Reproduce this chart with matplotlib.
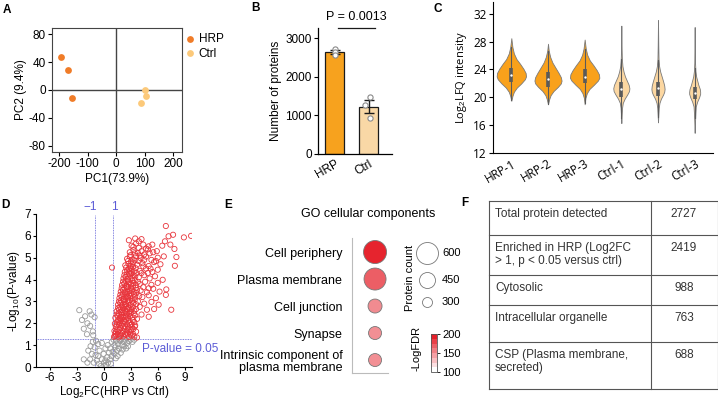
import numpy as np
import matplotlib
matplotlib.use("Agg")
import matplotlib.pyplot as plt
from matplotlib.colors import LinearSegmentedColormap, Normalize
import matplotlib as mpl

plt.rcParams["font.family"] = ["Liberation Sans", "DejaVu Sans"]
plt.rcParams["axes.unicode_minus"] = False
plt.rcParams["mathtext.fontset"] = "custom"
plt.rcParams["mathtext.rm"] = "Liberation Sans"
plt.rcParams["mathtext.default"] = "rm"

# ---------------- data ----------------
# A: PCA
pca_groups = ["HRP", "Ctrl"]
pca_hrp_x = [-195, -168, -155]
pca_hrp_y = [47, 28, -11]
pca_ctrl_x = [100, 105, 88]
pca_ctrl_y = [0, -8, -19]

# B: number of proteins
bar_groups = ["HRP", "Ctrl"]
bar_means = [2646, 1230]
bar_sem = [50, 175]
bar_points_hrp = [2720, 2650, 2570]
bar_points_ctrl = [1490, 1275, 930]
p_label = "P = 0.0013"

# C: violin profiles (value, half width)
violin_names = ["HRP-1", "HRP-2", "HRP-3", "Ctrl-1", "Ctrl-2", "Ctrl-3"]
violin_vals = [
    [19.5, 20.2, 20.8, 21.4, 22.0, 22.6, 23.0, 23.5, 24.1, 24.8, 25.5, 26.3, 27.2, 28.5],
    [19.0, 19.7, 20.3, 20.9, 21.5, 22.0, 22.4, 22.9, 23.5, 24.2, 25.0, 25.8, 26.7, 27.7],
    [19.0, 19.9, 20.6, 21.2, 21.8, 22.4, 22.8, 23.3, 23.9, 24.6, 25.3, 26.1, 27.0, 28.3],
    [16.3, 17.5, 18.5, 19.2, 19.8, 20.4, 20.9, 21.3, 21.8, 22.4, 23.0, 23.7, 24.5, 25.5, 27.0, 30.3],
    [16.4, 17.5, 18.5, 19.2, 19.8, 20.4, 20.8, 21.2, 21.7, 22.3, 23.0, 23.7, 24.5, 25.5, 27.5, 31.1],
    [14.9, 16.5, 17.8, 18.7, 19.4, 20.0, 20.5, 20.8, 21.2, 21.8, 22.4, 23.0, 23.8, 25.0, 27.0, 30.1],
]
violin_hw = [
    [0.0, 0.03, 0.07, 0.15, 0.27, 0.37, 0.40, 0.39, 0.33, 0.24, 0.14, 0.07, 0.03, 0.0],
    [0.0, 0.03, 0.07, 0.15, 0.27, 0.35, 0.37, 0.35, 0.29, 0.21, 0.12, 0.06, 0.02, 0.0],
    [0.0, 0.02, 0.06, 0.13, 0.25, 0.36, 0.40, 0.39, 0.33, 0.24, 0.14, 0.07, 0.03, 0.0],
    [0.0, 0.01, 0.02, 0.04, 0.09, 0.16, 0.21, 0.22, 0.20, 0.15, 0.10, 0.06, 0.03, 0.015, 0.008, 0.0],
    [0.0, 0.01, 0.02, 0.04, 0.08, 0.14, 0.17, 0.18, 0.17, 0.14, 0.10, 0.06, 0.03, 0.015, 0.008, 0.0],
    [0.0, 0.01, 0.02, 0.03, 0.07, 0.12, 0.15, 0.15, 0.14, 0.10, 0.07, 0.04, 0.02, 0.01, 0.006, 0.0],
]
box_q1 = [22.25, 21.5, 22.1, 20.1, 20.2, 19.7]
box_med = [23.2, 22.6, 22.9, 21.2, 21.3, 20.6]
box_q3 = [24.2, 23.6, 24.0, 22.25, 22.25, 21.5]
whisk_lo = [19.6, 19.0, 19.2, 17.0, 17.2, 17.0]
whisk_hi = [27.2, 26.7, 26.9, 25.5, 25.3, 24.2]

# D: volcano (log2FC, -log10 p)
red_pts = [
    (1.15, 1.38), (1.4, 1.45), (1.7, 1.36), (1.95, 1.48), (2.2, 1.4), (2.5, 1.47), (2.8, 1.37), (3.1, 1.44),
    (3.4, 1.39), (3.7, 1.35), (1.3, 1.52), (2.05, 1.55), (2.65, 1.53),
    (1.25, 1.42), (1.55, 1.5), (1.85, 1.42), (2.35, 1.5), (2.95, 1.5), (3.25, 1.52),
    (1.2, 1.65), (1.45, 1.72), (1.6, 1.62), (1.85, 1.78), (2.1, 1.66), (2.3, 1.75), (2.55, 1.63), (2.75, 1.8),
    (3.0, 1.68), (3.3, 1.74), (3.6, 1.62), (1.35, 1.85), (2.0, 1.9), (2.4, 1.84),
    (1.35, 1.6), (1.75, 1.7), (2.2, 1.82), (2.65, 1.72), (2.9, 1.6), (3.15, 1.82), (3.45, 1.85),
    (1.25, 1.98), (1.5, 2.05), (1.7, 1.95), (1.9, 2.1), (2.15, 2.0), (2.35, 2.08), (2.6, 1.96), (2.85, 2.04),
    (3.1, 1.97), (3.4, 2.06), (1.6, 2.15), (2.0, 2.18), (2.5, 2.16), (3.5, 1.9),
    (1.45, 1.93), (1.8, 2.02), (2.25, 2.12), (2.75, 2.12), (2.95, 1.92), (3.25, 2.15),
    (1.3, 2.25), (1.55, 2.32), (1.8, 2.22), (2.0, 2.38), (2.2, 2.28), (2.45, 2.35), (2.7, 2.24), (2.95, 2.33),
    (3.2, 2.27), (3.5, 2.36), (1.7, 2.45), (2.3, 2.47), (2.6, 2.44), (4.2, 2.4), (5.0, 2.3),
    (1.45, 2.4), (1.9, 2.3), (2.1, 2.48), (2.55, 2.3), (2.85, 2.42), (3.05, 2.5), (3.35, 2.45), (3.7, 2.2),
    (1.45, 2.55), (1.7, 2.62), (1.95, 2.52), (2.15, 2.68), (2.4, 2.58), (2.6, 2.66), (2.9, 2.54), (3.1, 2.64),
    (3.4, 2.57), (1.85, 2.75), (2.5, 2.78), (2.75, 2.72), (4.8, 2.62), (5.6, 2.65), (7.5, 2.62),
    (1.6, 2.7), (2.05, 2.6), (2.3, 2.74), (2.85, 2.68), (3.25, 2.75), (3.6, 2.65), (4.0, 2.75),
    (1.6, 2.85), (1.85, 2.93), (2.05, 2.82), (2.3, 2.97), (2.5, 2.88), (2.75, 2.95), (3.0, 2.84), (3.3, 2.92),
    (3.6, 2.87), (2.2, 3.05), (2.9, 3.06), (4.5, 2.9), (5.3, 2.98), (6.1, 2.85),
    (1.7, 3.0), (1.95, 3.05), (2.4, 2.85), (2.65, 3.02), (3.15, 3.0), (3.45, 3.08), (3.8, 3.0),
    (1.75, 3.15), (2.0, 3.22), (2.25, 3.12), (2.45, 3.28), (2.7, 3.18), (2.95, 3.25), (3.2, 3.14), (3.5, 3.23),
    (2.6, 3.35), (3.05, 3.37), (4.3, 3.2), (5.0, 3.28), (5.8, 3.15), (6.9, 3.3),
    (1.85, 3.3), (2.15, 3.35), (2.55, 3.2), (2.8, 3.32), (3.35, 3.32), (3.65, 3.38), (3.95, 3.25),
    (1.9, 3.45), (2.15, 3.52), (2.4, 3.42), (2.65, 3.58), (2.85, 3.48), (3.1, 3.55), (3.4, 3.44), (3.7, 3.52),
    (2.55, 3.66), (4.1, 3.5), (4.8, 3.42), (5.5, 3.58), (6.2, 3.45), (6.95, 3.55),
    (2.0, 3.6), (2.3, 3.62), (2.75, 3.65), (3.0, 3.62), (3.25, 3.7), (3.55, 3.62), (4.4, 3.65),
    (2.05, 3.75), (2.3, 3.82), (2.55, 3.72), (2.8, 3.88), (3.0, 3.78), (3.3, 3.85), (3.6, 3.74), (2.7, 3.95),
    (4.0, 3.8), (4.6, 3.9), (5.3, 3.76), (6.0, 3.85),
    (2.15, 3.9), (2.45, 3.95), (3.15, 3.95), (3.45, 3.98), (3.8, 3.9), (5.0, 3.6),
    (2.2, 4.05), (2.45, 4.12), (2.7, 4.02), (2.95, 4.18), (3.2, 4.08), (3.5, 4.15), (2.85, 4.25), (3.9, 4.1),
    (4.5, 4.2), (5.1, 4.05), (5.7, 4.15), (6.55, 3.99),
    (2.3, 4.2), (2.6, 4.25), (3.05, 4.3), (3.3, 4.22), (3.65, 4.3), (4.2, 4.3), (4.9, 4.3),
    (2.35, 4.35), (2.6, 4.42), (2.85, 4.32), (3.1, 4.48), (3.4, 4.38), (2.95, 4.55), (4.0, 4.4), (4.7, 4.5),
    (5.4, 4.35), (6.0, 4.45), (0.93, 4.55),
    (2.5, 4.55), (2.8, 4.5), (3.25, 4.58), (3.55, 4.52), (4.4, 4.6), (5.2, 4.5),
    (2.4, 4.65), (2.75, 4.72), (3.0, 4.62), (3.3, 4.78), (3.7, 4.68), (4.3, 4.75), (5.0, 4.62), (5.6, 4.8),
    (6.3, 4.7), (7.9, 4.63),
    (2.7, 4.85), (3.05, 4.82), (3.45, 4.88), (3.9, 4.85), (4.5, 4.9), (5.8, 4.85),
    (2.6, 4.95), (2.9, 5.05), (3.2, 4.92), (3.6, 5.08), (4.1, 4.98), (4.7, 5.05), (5.3, 4.9), (6.0, 5.0),
    (6.67, 5.06), (8.07, 5.03),
    (3.0, 5.12), (3.45, 5.2), (4.0, 5.1), (4.5, 5.15), (5.1, 5.2), (5.9, 5.3),
    (2.9, 5.25), (3.3, 5.35), (3.8, 5.22), (4.2, 5.3), (4.9, 5.38), (5.5, 5.25), (7.85, 5.4),
    (3.3, 5.5), (3.9, 5.45), (4.7, 5.42), (5.4, 5.6), (3.9, 5.75), (4.2, 5.85), (6.5, 5.55),
    (3.1, 5.55), (3.6, 5.65), (4.4, 5.6), (5.0, 5.52), (6.8, 5.75), (7.4, 5.6),
    (2.8, 5.8), (3.5, 5.88), (7.2, 5.98), (7.7, 6.05), (8.9, 5.93), (9.7, 6.0), (6.9, 6.45),
]
gray_pts = [
    (-2.7, 2.6), (-1.55, 2.55), (-1.35, 2.4), (-1.0, 2.28), (-2.05, 2.32), (-2.4, 2.15), (-1.8, 2.0),
    (-1.5, 1.88), (-2.2, 1.75), (-1.2, 1.63), (-1.15, 1.45), (-1.85, 1.5),
    (-1.2, 1.15), (-1.45, 0.95), (-1.0, 0.9), (-1.7, 0.75), (-1.3, 0.6), (-0.9, 0.55), (-2.2, 0.35),
    (-1.5, 0.35), (-0.75, 0.3), (-1.1, 0.2), (-0.5, 0.15), (-0.3, 0.05), (-0.6, 0.5), (-0.45, 0.75),
    (-0.2, 0.35), (-1.8, 0.2), (-0.85, 1.2), (-0.6, 1.05),
    (0.1, 0.05), (0.3, 0.1), (0.5, 0.2), (0.2, 0.3), (0.7, 0.35), (0.4, 0.45), (0.9, 0.5), (0.6, 0.65),
    (0.0, 0.6), (0.2, 0.85), (-0.2, 1.1), (0.45, 1.0), (0.75, 0.85), (1.0, 0.7), (1.2, 0.6), (0.9, 1.15),
    (1.3, 0.9), (0.05, 0.2), (0.8, 0.15),
    (1.4, 1.2), (1.6, 1.05), (1.8, 1.2), (2.0, 1.0), (2.2, 1.15), (2.4, 1.25), (1.7, 0.85), (1.5, 0.75),
    (2.1, 0.8), (2.6, 1.1), (2.8, 1.2), (3.0, 1.25), (1.9, 0.65), (1.2, 1.0), (2.3, 0.95), (2.5, 0.85),
    (1.1, 1.25), (2.7, 0.95), (3.2, 1.15), (3.4, 1.25), (1.55, 0.5), (2.0, 1.28), (1.35, 0.4), (1.75, 1.25),
]
fc_cut = 1
p_cut = -np.log10(0.05)

# E: GO cellular components
go_terms = ["Cell periphery", "Plasma membrane", "Cell junction", "Synapse",
            "Intrinsic component of\nplasma membrane"]
go_count = [625, 600, 400, 375, 375]
go_logfdr = [198, 172, 152, 150, 150]
count_legend = [600, 450, 300]
fdr_ticks = [100, 150, 200]

# F: table
table_labels = ["Total protein detected", "Enriched in HRP (Log2FC\n> 1, p < 0.05 versus ctrl)",
                "Cytosolic", "Intracellular organelle", "CSP (Plasma membrane,\nsecreted)"]
table_values = ["2727", "2419", "988", "763", "688"]

# ---------------- figure ----------------
W, H = 718, 400
fig = plt.figure(figsize=(W / 100, H / 100), dpi=100)


def px_axes(l, t, r, b):
    return fig.add_axes([l / W, 1 - b / H, (r - l) / W, (b - t) / H])


def panel_letter(x, y, s):
    fig.text(x / W, 1 - y / H, s, ha="center", va="center", fontsize=8.5, fontweight="bold")


FS = 8.5

# ---- A ----
axA = px_axes(52, 28, 182, 152)
axA.axhline(0, color="#444444", lw=1.0, zorder=1)
axA.axvline(0, color="#444444", lw=1.0, zorder=1)
axA.scatter(pca_hrp_x, pca_hrp_y, s=24, color="#F07C28", label=pca_groups[0], zorder=3, lw=0)
axA.scatter(pca_ctrl_x, pca_ctrl_y, s=24, color="#FCC97A", label=pca_groups[1], zorder=3, lw=0)
axA.set_xlim(-226, 231)
axA.set_ylim(-88.6, 88.6)
axA.set_xticks([-200, -100, 0, 100, 200])
axA.set_yticks([-80, -40, 0, 40, 80])
for sp in axA.spines.values():
    sp.set_color("#444444")
    sp.set_linewidth(0.8)
axA.tick_params(labelsize=FS, length=3, width=0.8, pad=1.5)
axA.set_xlabel("PC1(73.9%)", fontsize=FS, labelpad=2)
axA.set_ylabel("PC2 (9.4%)", fontsize=FS, labelpad=1)
axA.legend(loc="upper left", bbox_to_anchor=(0.955, 1.02), frameon=False, fontsize=FS,
           handletextpad=0.1, borderaxespad=0.2, labelspacing=0.25, handlelength=1.2)

# ---- B ----
axB = px_axes(318, 28, 392, 154)
xb = np.arange(len(bar_groups))
axB.bar(xb, bar_means, width=0.56, color=["#F7A21E", "#F9D8A6"], edgecolor="#1a1a1a", lw=0.9, zorder=2)
axB.errorbar(xb, bar_means, yerr=bar_sem, fmt="none", ecolor="#1a1a1a", capsize=3.5,
             elinewidth=1.0, capthick=1.0, zorder=3)
axB.scatter([0, 0.0, 0.0], bar_points_hrp, s=14, facecolor="white", edgecolor="#8a8a8a", lw=0.8, zorder=4)
axB.scatter([1.02, 0.87, 1.02], bar_points_ctrl, s=14, facecolor="white", edgecolor="#8a8a8a", lw=0.8, zorder=4)
axB.set_xlim(-0.5, 1.68)
axB.set_ylim(0, 3270)
axB.set_yticks([0, 1000, 2000, 3000])
axB.set_xticks(xb)
axB.set_xticklabels(bar_groups, rotation=30, ha="right", rotation_mode="anchor")
axB.spines[["top", "right"]].set_visible(False)
for sp in ["left", "bottom"]:
    axB.spines[sp].set_linewidth(0.9)
axB.tick_params(axis="y", labelsize=FS, length=3, width=0.8, pad=1.5)
axB.tick_params(axis="x", labelsize=FS, length=0, pad=3)
axB.set_ylabel("Number of proteins", fontsize=FS, labelpad=2)
axB.plot([0.09, 1.18], [3275, 3275], color="#1a1a1a", lw=0.9, clip_on=False)
axB.text(0.63, 3560, p_label, ha="center", va="center", fontsize=9)

# ---- C ----
cfont = ["Open Sans", "DejaVu Sans"]
axC = px_axes(493, 2, 713, 153)
for i in range(len(violin_names)):
    col = "#F9A11B" if i < 3 else "#FCD7A1"
    v = np.array(violin_vals[i])
    w = np.array(violin_hw[i])
    axC.fill_betweenx(v, i - w, i + w, facecolor=col, edgecolor="#7a7a7a", lw=0.6, zorder=2)
    axC.plot([i, i], [whisk_lo[i], whisk_hi[i]], color="#5a5a5a", lw=0.8, zorder=3)
    axC.plot([i, i], [box_q1[i], box_q3[i]], color="#5a5a5a", lw=2.6, zorder=4, solid_capstyle="butt")
    axC.scatter([i], [box_med[i]], s=3, color="white", zorder=5, lw=0)
axC.set_xlim(-0.5, 5.5)
axC.set_ylim(12, 33.7)
axC.set_yticks([12, 16, 20, 24, 28, 32])
axC.set_xticks(range(len(violin_names)))
axC.set_xticklabels(violin_names, rotation=30, ha="right", rotation_mode="anchor", family=cfont)
for lab in axC.get_yticklabels():
    lab.set_family(cfont)
axC.spines[["top", "right"]].set_visible(False)
axC.tick_params(axis="y", labelsize=FS, length=3, width=0.8, pad=1.5)
axC.tick_params(axis="x", labelsize=FS, length=0, pad=3)
axC.set_ylabel("Log$_2$LFQ intensity", fontsize=8, labelpad=3, family=cfont)

# ---- D ----
axD = px_axes(36, 214, 192, 367)
rx, ry = np.array(red_pts).T
gx, gy = np.array(gray_pts).T
axD.scatter(gx, gy, s=14, facecolor="none", edgecolor="#9a9a9a", lw=0.6, zorder=2)
axD.scatter(rx, ry, s=14, facecolor="none", edgecolor="#E8343B", lw=0.6, zorder=3)
blue = "#5B5BD6"
axD.axhline(p_cut, color=blue, lw=0.6, ls=(0, (1, 1)), zorder=1)
axD.plot([-fc_cut, -fc_cut], [0, 6.95], color=blue, lw=0.6, ls=(0, (1, 1)), zorder=1)
axD.plot([fc_cut, fc_cut], [0, 6.95], color=blue, lw=0.6, ls=(0, (1, 1)), zorder=1)
axD.text(-fc_cut - 0.5, 7.05, "\u22121", color=blue, fontsize=8.5, ha="center", va="bottom")
axD.text(fc_cut + 0.2, 7.05, "1", color=blue, fontsize=8.5, ha="center", va="bottom")
axD.text(4.25, 0.84, "P-value = 0.05", color=blue, fontsize=8.5, ha="left", va="center", clip_on=False)
axD.set_xlim(-7.5, 9.8)
axD.set_ylim(0, 7)
axD.set_xticks([-6, -3, 0, 3, 6, 9])
axD.set_yticks(range(8))
axD.spines[["top", "right"]].set_visible(False)
axD.tick_params(labelsize=FS, length=2.5, width=0.8, pad=1)
axD.set_xlabel("Log$_2$FC(HRP vs Ctrl)", fontsize=FS, labelpad=0)
axD.set_ylabel("-Log$_{10}$(P-value)", fontsize=FS, labelpad=2)

# ---- E ----
cmap = LinearSegmentedColormap.from_list("fdr", ["#FFFFFF", "#E5202A"])
norm = Normalize(100, 200)


def bubble_size(c):
    d_px = 10 + (np.asarray(c) - 300) * 0.04
    return (d_px * 0.72) ** 2


axE = px_axes(352, 238, 388, 373)
ye = np.arange(len(go_terms))
axE.scatter([0.64] * len(ye), ye, s=bubble_size(go_count), c=go_logfdr, cmap=cmap, norm=norm,
            edgecolor="#777777", lw=0.6, zorder=3)
axE.set_xlim(0, 1)
axE.set_ylim(len(go_terms) - 0.52, -0.52)
axE.set_xticks([])
axE.set_yticks(ye)
axE.set_yticklabels(go_terms, fontsize=9, linespacing=1.0)
axE.tick_params(axis="y", length=0, pad=7)
axE.spines[["top", "right"]].set_visible(False)
for sp in ["left", "bottom"]:
    axE.spines[sp].set_color("#BBBBBB")
    axE.spines[sp].set_linewidth(0.8)
fig.text(368 / W, 1 - 214 / H, "GO cellular components", ha="center", va="center", fontsize=9)

axL = px_axes(405, 235, 475, 320)
axL.set_xlim(0, 70)
axL.set_ylim(85, 0)
axL.axis("off")
for c, yy in zip(count_legend, [18, 45, 67]):
    axL.scatter([22], [yy], s=bubble_size(c), facecolor="white", edgecolor="#777777", lw=0.6, clip_on=False)
    axL.text(37, yy, str(c), fontsize=8, va="center", ha="left")
axL.text(5, 43, "Protein count", rotation=90, fontsize=8, ha="center", va="center")

axCb = px_axes(431, 334, 437, 372)
step_cmap = LinearSegmentedColormap.from_list("fdr8", ["#FFFFFF", "#E5202A"], N=8)
cb = mpl.colorbar.ColorbarBase(axCb, cmap=step_cmap, norm=norm, orientation="vertical")
cb.set_ticks(fdr_ticks)
cb.outline.set_linewidth(0.6)
cb.outline.set_edgecolor("#555555")
axCb.tick_params(labelsize=8, length=2.5, width=0.6, pad=1.5)
fig.text(417 / W, 1 - 348 / H, "-LogFDR", rotation=90, fontsize=8, ha="center", va="center")

# ---- F ----
axF = px_axes(489, 201, 718, 389)
axF.set_xlim(0, 229)
axF.set_ylim(188, 0)
axF.axis("off")
row_edges = [0, 34, 74, 104, 141, 187.5]
line_col = "#555555"
for y in row_edges:
    axF.plot([0, 228.5], [y, y], color=line_col, lw=0.8, clip_on=False)
for x in [0, 162, 228.5]:
    axF.plot([x, x], [0, 187.5], color=line_col, lw=0.8, clip_on=False)
for i, (lab, val) in enumerate(zip(table_labels, table_values)):
    top = row_edges[i]
    axF.text(6, top + 7, lab, ha="left", va="top", fontsize=8.5, color="#333333", linespacing=1.15)
    axF.text(195, top + 7, val, ha="center", va="top", fontsize=8.5, color="#333333")

panel_letter(7, 10, "A")
panel_letter(255, 8, "B")
panel_letter(438, 9, "C")
panel_letter(5, 205, "D")
panel_letter(228, 205, "E")
panel_letter(465, 203, "F")

fig.savefig("out.png", dpi=100)
